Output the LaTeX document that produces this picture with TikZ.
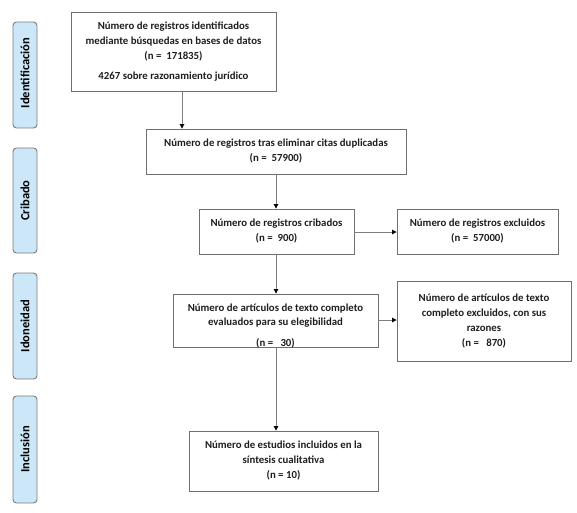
\documentclass[tikz,border=0pt]{standalone}
\usepackage{fontspec}
\setmainfont{Carlito}
\usetikzlibrary{arrows.meta}
\definecolor{boxline}{HTML}{6F6F6F}
\definecolor{conn}{HTML}{7F7F7F}
\definecolor{sidefill}{HTML}{CCE8F8}
\definecolor{sideline}{HTML}{7A7A7A}
\definecolor{txt}{HTML}{1E1E1E}
\begin{document}
\begin{tikzpicture}[x=1pt,y=-1pt,
  box/.style={draw=boxline,line width=0.9pt,rectangle,inner sep=0pt,align=center,
    text=txt,font=\fontsize{10.8}{15}\selectfont\bfseries},
  sidebox/.style={draw=sideline,fill=sidefill,line width=0.9pt,rounded corners=3.5pt},
  sidetext/.style={rotate=90,text=black,font=\fontsize{12.5}{14}\selectfont\bfseries},
  conn/.style={draw=conn,line width=0.9pt,-{Triangle[length=4.5pt,width=4.5pt,color=black]}}]
\useasboundingbox (0,0) rectangle (577,512);
% side labels
\draw[sidebox] (13,22) rectangle (37,128);
\node[sidetext] (s1) at (25,73) {Identificación};
\draw[sidebox] (13,148) rectangle (37,253);
\node[sidetext] (s2) at (25,200.5) {Cribado};
\draw[sidebox] (13,273) rectangle (37,379);
\node[sidetext] (s3) at (25,326) {Idoneidad};
\draw[sidebox] (13,396) rectangle (37,503);
\node[sidetext] (s4) at (25,449.5) {Inclusión};
% boxes
\node[box,minimum width=205pt,minimum height=79pt] (b1) at (173.5,51.5)
  {Número de registros identificados\\mediante búsquedas en bases de datos\\(n =\ \ 171835)\\[5pt]4267 sobre razonamiento jurídico};
\node[box,minimum width=260pt,minimum height=45pt] (b2) at (276,151.5)
  {Número de registros tras eliminar citas duplicadas\\(n =\ \ 57900)};
\node[box,minimum width=155pt,minimum height=45pt] (b3) at (276.5,231.5)
  {Número de registros cribados\\(n =\ \ 900)};
\node[box,minimum width=161pt,minimum height=45pt] (b4) at (477.5,231.5)
  {Número de registros excluidos\\(n =\ \ 57000)};
\node[box,minimum width=205pt,minimum height=53pt] (b5) at (275.5,320.5) {};
\begin{scope}
  \clip (b5.north west) rectangle (b5.south east);
  \node[font=\fontsize{10.8}{14}\selectfont\bfseries,text=txt,align=center,anchor=north,inner sep=0pt] (t5) at (275.5,304)
    {Número de artículos de texto completo\\evaluados para su elegibilidad\\[7pt](n =\ \ \ 30)};
\end{scope}
\node[box,minimum width=174pt,minimum height=80pt] (b6) at (484,321)
  {Número de artículos de texto\\completo excluidos, con sus\\razones\\(n =\ \ \ 870)};
\node[box,minimum width=189pt,minimum height=60pt] (b7) at (283.5,461)
  {Número de estudios incluidos en la\\síntesis cualitativa\\(n = 10)};
% connector guides
\coordinate (c1) at (182,0);
\coordinate (c2) at (276,0);
\coordinate (h1) at (0,232);
\coordinate (h2) at (0,320);
% connectors
\draw[conn] (b1.south -| c1) -- (b2.north -| c1);
\draw[conn] (b2.south -| c2) -- (b3.north -| c2);
\draw[conn] (b3.south -| c2) -- (b5.north -| c2);
\draw[conn] (b5.south -| c2) -- (b7.north -| c2);
\draw[conn] (b3.east |- h1) -- (b4.west |- h1);
\draw[conn] (b5.east |- h2) -- (b6.west |- h2);
\end{tikzpicture}
\end{document}
